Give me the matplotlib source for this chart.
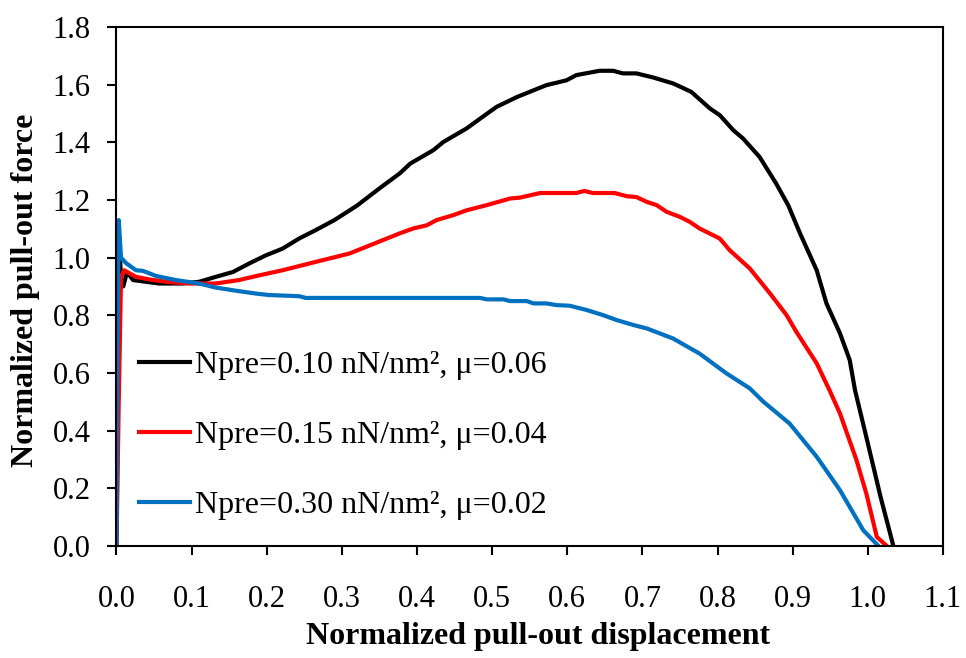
import matplotlib
matplotlib.use("Agg")
import matplotlib.pyplot as plt

plt.rcParams['font.family'] = ['Liberation Serif', 'DejaVu Serif']
plt.rcParams['mathtext.fontset'] = 'stix'

# Normalized pull-out curves for three pre-stress / friction combinations
x_a = [0, 0.002, 0.004, 0.006, 0.009, 0.014, 0.022, 0.039, 0.057, 0.088, 0.110, 0.132,
       0.155, 0.177, 0.199, 0.221, 0.243, 0.265, 0.29, 0.32, 0.35, 0.377, 0.391, 0.422,
       0.435, 0.466, 0.484, 0.506, 0.533, 0.572, 0.599, 0.612, 0.643, 0.661, 0.674, 0.692,
       0.714, 0.741, 0.765, 0.790, 0.803, 0.821, 0.834, 0.856, 0.878, 0.894, 0.910, 0.932,
       0.945, 0.963, 0.976, 0.983, 0.998, 1.017, 1.034]
y_a = [0, 0.6, 1.05, 0.92, 0.90, 0.95, 0.922, 0.916, 0.910, 0.910, 0.916, 0.933,
       0.950, 0.980, 1.008, 1.031, 1.066, 1.095, 1.13, 1.18, 1.24, 1.292, 1.326, 1.373,
       1.401, 1.448, 1.482, 1.523, 1.557, 1.598, 1.615, 1.633, 1.648, 1.648, 1.639, 1.639,
       1.625, 1.604, 1.575, 1.517, 1.494, 1.442, 1.413, 1.349, 1.257, 1.182, 1.083, 0.956,
       0.841, 0.737, 0.644, 0.540, 0.378, 0.170, 0.0]

x_b = [0, 0.003, 0.006, 0.010, 0.026, 0.044, 0.066, 0.097, 0.132, 0.163, 0.186, 0.221,
       0.265, 0.310, 0.354, 0.377, 0.395, 0.413, 0.426, 0.448, 0.466, 0.493, 0.524, 0.537,
       0.564, 0.612, 0.623, 0.634, 0.663, 0.679, 0.692, 0.706, 0.719, 0.732, 0.750, 0.763,
       0.776, 0.803, 0.816, 0.843, 0.870, 0.892, 0.905, 0.932, 0.949, 0.963, 0.985, 0.998,
       1.012, 1.025]
y_b = [0, 0.5, 0.93, 0.956, 0.933, 0.924, 0.916, 0.910, 0.910, 0.922, 0.936, 0.956,
       0.985, 1.014, 1.060, 1.084, 1.101, 1.112, 1.130, 1.147, 1.164, 1.182, 1.205, 1.208,
       1.224, 1.224, 1.231, 1.224, 1.224, 1.213, 1.210, 1.193, 1.182, 1.159, 1.141, 1.124,
       1.101, 1.066, 1.026, 0.962, 0.875, 0.800, 0.742, 0.633, 0.540, 0.459, 0.297, 0.182,
       0.031, 0.0]

x_c = [0, 0.001, 0.003, 0.006, 0.013, 0.026, 0.035, 0.053, 0.079, 0.110, 0.132, 0.159,
       0.186, 0.203, 0.243, 0.252, 0.399, 0.484, 0.493, 0.515, 0.524, 0.546, 0.555, 0.572,
       0.586, 0.603, 0.626, 0.648, 0.666, 0.688, 0.706, 0.741, 0.776, 0.812, 0.843, 0.861,
       0.896, 0.932, 0.963, 0.994, 1.014]
y_c = [0, 0.6, 1.13, 1.0, 0.980, 0.956, 0.954, 0.936, 0.922, 0.910, 0.896, 0.885,
       0.875, 0.870, 0.866, 0.860, 0.860, 0.860, 0.855, 0.855, 0.849, 0.849, 0.841, 0.841,
       0.835, 0.833, 0.818, 0.800, 0.783, 0.766, 0.754, 0.719, 0.667, 0.598, 0.546, 0.500,
       0.424, 0.309, 0.193, 0.054, 0.0]

labels = ["Npre=0.10 nN/nm², μ=0.06",
          "Npre=0.15 nN/nm², μ=0.04",
          "Npre=0.30 nN/nm², μ=0.02"]
colors = ["#000000", "#FF0000", "#0070C0"]

x_ticks = [0.0, 0.1, 0.2, 0.3, 0.4, 0.5, 0.6, 0.7, 0.8, 0.9, 1.0, 1.1]
y_ticks = [0.0, 0.2, 0.4, 0.6, 0.8, 1.0, 1.2, 1.4, 1.6, 1.8]

fig = plt.figure(figsize=(9.66, 6.58), dpi=100)
ax = fig.add_axes([0.1206, 0.1705, 0.8555, 0.7885])

for xs, ys, c, lab in zip([x_a, x_b, x_c], [y_a, y_b, y_c], colors, labels):
    ax.plot(xs, ys, color=c, lw=3.0, label=lab, solid_joinstyle='round')

ax.set_xlim(0, 1.1)
ax.set_ylim(0, 1.8)
ax.set_xticks(x_ticks)
ax.set_yticks(y_ticks)
ax.set_xticklabels([f"{v:.1f}" for v in x_ticks])
ax.set_yticklabels([f"{v:.1f}" for v in y_ticks])
ax.tick_params(direction='out', length=6.5, width=1.5, labelsize=22)
ax.tick_params(axis='y', pad=12)
ax.tick_params(axis='x', pad=21.5)
for s in ax.spines.values():
    s.set_linewidth(1.5)

ax.set_xlabel("Normalized pull-out displacement", fontsize=23, fontweight='bold', va='center')
ax.set_ylabel("Normalized pull-out force", fontsize=23, fontweight='bold', va='center')
ax.xaxis.set_label_coords(0.5106, -0.174)
ax.yaxis.set_label_coords(-0.1107, 0.493)

leg = ax.legend(loc='lower left', bbox_to_anchor=(0.0, 0.007), frameon=False,
                fontsize=23, handlelength=1.6, handletextpad=0.15, labelspacing=1.27,
                borderaxespad=0.3)
for h in leg.get_lines():
    h.set_linewidth(3.0)

fig.savefig("out.png", dpi=100)
